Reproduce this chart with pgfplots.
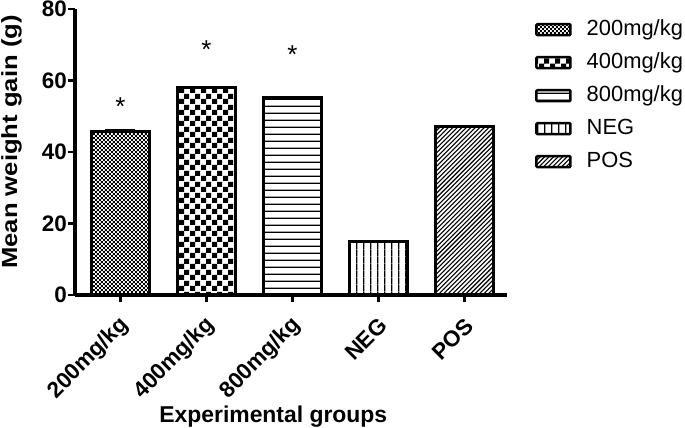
\documentclass[border=0pt]{standalone}
\usepackage{pgfplots}
\pgfplotsset{compat=1.18}
\usepackage{graphicx}
\usepackage{fontspec}
\setmainfont{Liberation Sans}
\usetikzlibrary{patterns}
\pgfdeclarepatternformonly{finechecker}{\pgfqpoint{0pt}{0pt}}{\pgfqpoint{4pt}{4pt}}{\pgfqpoint{4pt}{4pt}}{%
  \pgfpathrectangle{\pgfqpoint{0pt}{0pt}}{\pgfqpoint{2pt}{2pt}}%
  \pgfpathrectangle{\pgfqpoint{2pt}{2pt}}{\pgfqpoint{2pt}{2pt}}%
  \pgfusepath{fill}}
\pgfdeclarepatternformonly{bigchecker}{\pgfqpoint{0pt}{0pt}}{\pgfqpoint{10.6pt}{10.6pt}}{\pgfqpoint{10.6pt}{10.6pt}}{%
  \pgfpathrectangle{\pgfqpoint{0pt}{0pt}}{\pgfqpoint{5.3pt}{5.3pt}}%
  \pgfpathrectangle{\pgfqpoint{5.3pt}{5.3pt}}{\pgfqpoint{5.3pt}{5.3pt}}%
  \pgfusepath{fill}}
\pgfdeclarepatternformonly{hlines}{\pgfqpoint{0pt}{0pt}}{\pgfqpoint{7pt}{7pt}}{\pgfqpoint{7pt}{7pt}}{%
  \pgfpathrectangle{\pgfqpoint{0pt}{0pt}}{\pgfqpoint{7pt}{1.5pt}}%
  \pgfusepath{fill}}
\pgfdeclarepatternformonly{vlines}{\pgfqpoint{0pt}{0pt}}{\pgfqpoint{7.3pt}{7.3pt}}{\pgfqpoint{7.3pt}{7.3pt}}{%
  \pgfpathrectangle{\pgfqpoint{0pt}{0pt}}{\pgfqpoint{1.5pt}{7.3pt}}%
  \pgfusepath{fill}}
\pgfdeclarepatternformonly{diag}{\pgfqpoint{-1pt}{-1pt}}{\pgfqpoint{5.5pt}{5.5pt}}{\pgfqpoint{4.5pt}{4.5pt}}{%
  \pgfsetlinewidth{1.1pt}%
  \pgfpathmoveto{\pgfqpoint{-0.1pt}{-0.1pt}}%
  \pgfpathlineto{\pgfqpoint{4.6pt}{4.6pt}}%
  \pgfusepath{stroke}}
\pgfplotsset{
  rectleg/.style={legend image code/.code={\draw[##1, line width=2.5bp, rounded corners=1bp] (0bp,-5.5bp) rectangle (34bp,5.5bp);}},
  mybar/.style={ybar, bar width=58bp, bar shift=0pt, draw=black, line width=3bp, rectleg},
}
\begin{document}
\begin{tikzpicture}
\useasboundingbox (0,0) rectangle (685bp,428bp);
\begin{axis}[
  at={(75bp,133bp)}, anchor=south west,
  scale only axis, width=432bp, height=286bp,
  xmin=-0.529, xmax=4.494, ymin=0, ymax=80,
  axis lines*=left,
  axis line style={line width=3bp},
  xtick={0,1,2,3,4},
  xticklabels={200mg/kg,400mg/kg,800mg/kg,NEG,POS},
  ytick={0,20,40,60,80},
  minor tick num=0,
  tick align=outside, major tick length=7bp,
  tick style={line width=2.5bp, black},
  /pgf/number format/assume math mode=true,
  ticklabel style={font=\fontsize{22.5}{26}\selectfont\bfseries},
  yticklabel style={inner sep=0pt, anchor=east, xshift=-1bp},
  xticklabel style={inner sep=0pt, xshift=5bp, yshift=-20bp, rotate=45, anchor=east},
  xlabel={Experimental groups},
  ylabel={\scalebox{1.17}[1]{Mean weight gain (g)}},
  xlabel style={font=\fontsize{23}{27}\selectfont\bfseries, at={(axis description cs:0.459,-0.425)}, anchor=center},
  ylabel style={font=\fontsize{22}{26}\selectfont\bfseries, at={(axis description cs:-0.147,0.535)}, anchor=center},
  legend style={draw=none, fill=none, at={(axis description cs:1.0648,0.962)}, anchor=north west,
    font=\fontsize{22}{26}\selectfont, row sep=14bp, column sep=15bp, inner sep=0pt,
    nodes={inner sep=0pt, text height=15bp, text depth=4bp}},
  legend cell align=left,
  clip=false,
]
\addplot[mybar, pattern=finechecker,
  error bars/.cd, y dir=plus, y explicit,
  error bar style={line width=1.5bp, black},
  error mark options={rotate=90, mark size=15bp, line width=1.5bp, black}]
  coordinates {(0,45.6) +- (0,0.6)};
\addplot[mybar, pattern=bigchecker] coordinates {(1,58)};
\addplot[mybar, pattern=hlines] coordinates {(2,55.2)};
\addplot[mybar, pattern=vlines] coordinates {(3,15)};
\addplot[mybar, pattern=diag] coordinates {(4,47.2)};
\addplot[draw=none, mark=none, forget plot, nodes near coords={*},
  nodes near coords style={anchor=base, inner sep=0pt, font=\fontsize{26}{30}\selectfont}]
  coordinates {(0,50.2) (1,66.1) (2,64.8)};
\legend{200mg/kg,400mg/kg,800mg/kg,NEG,POS}
\end{axis}
\end{tikzpicture}
\end{document}
